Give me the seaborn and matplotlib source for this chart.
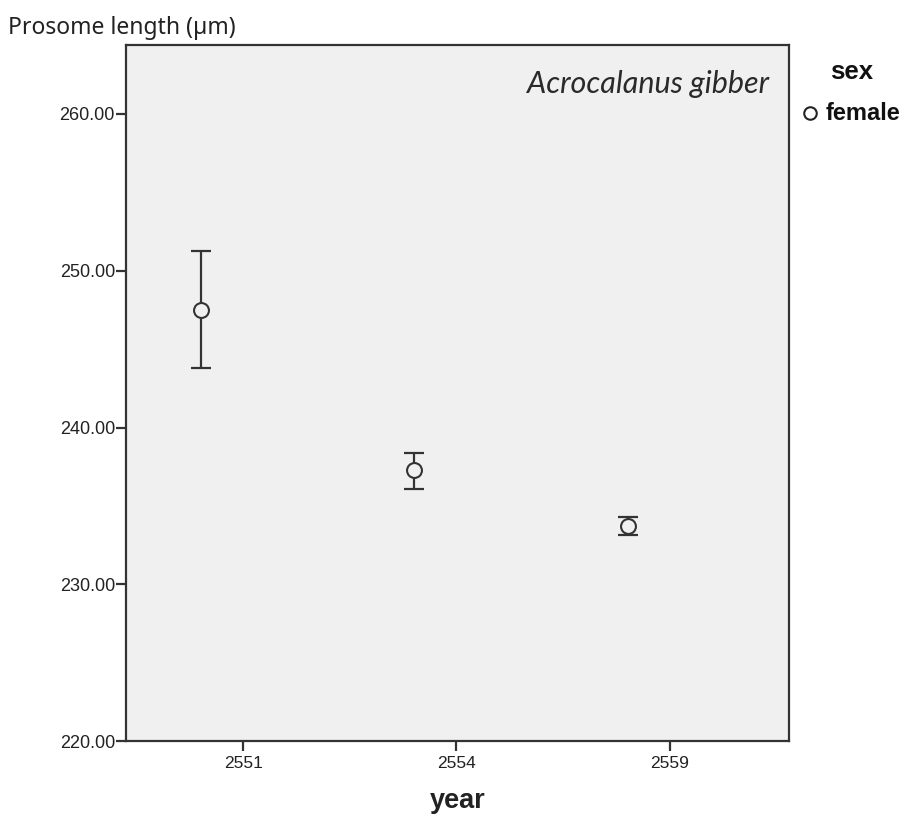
import numpy as np
import pandas as pd
import matplotlib
matplotlib.use("Agg")
import matplotlib.pyplot as plt
import seaborn as sns
from matplotlib.lines import Line2D

# ---- data ----
years = ["2551", "2554", "2559"]
mean_length = [247.50, 237.29, 233.72]
lower_ci = [243.81, 236.08, 233.16]
upper_ci = [251.26, 238.35, 234.27]
sex = ["female", "female", "female"]
y_ticks = [220, 230, 240, 250, 260]

sns.set_theme(style="white")
plt.rcParams['font.family'] = ['Liberation Sans', 'DejaVu Sans']

df = pd.DataFrame({"year": years, "mean": mean_length,
                   "lo": lower_ci, "hi": upper_ci, "sex": sex})
idx = np.arange(len(years))
df["xpos"] = idx - 0.197  # dodge offset as in SPSS

fig = plt.figure(figsize=(9.08, 8.23), dpi=100)
ax = fig.add_axes([0.1388, 0.0996, 0.869 - 0.1388, 0.9453 - 0.0996])
ax.set_facecolor("#f0f0f0")

dark = "#333333"
ax.errorbar(df["xpos"], df["mean"],
            yerr=[df["mean"] - df["lo"], df["hi"] - df["mean"]],
            fmt="none", ecolor=dark, elinewidth=1.6, capsize=7.5, capthick=1.6,
            zorder=2)
sns.scatterplot(data=df, x="xpos", y="mean", ax=ax, marker="o", s=115,
                facecolor="#f0f0f0", edgecolor=dark, linewidth=1.5,
                legend=False, zorder=3)

ax.set_xlim(-0.55, 2.56)
ax.set_ylim(220, 264.4)
ax.set_xticks(idx)
ax.set_xticklabels(years)
ax.set_yticks(y_ticks)
ax.set_yticklabels([f"{v:.2f}" for v in y_ticks])
ax.tick_params(axis="both", direction="out", length=7, width=1.6, color=dark,
               labelcolor="#222222")
ax.tick_params(axis="y", labelsize=13, pad=1)
ax.tick_params(axis="x", labelsize=12.5, pad=4)
ax.tick_params(left=True, bottom=True)
for sp in ax.spines.values():
    sp.set_color(dark)
    sp.set_linewidth(1.6)

ax.set_xlabel("year", fontsize=19.5, fontweight="bold", labelpad=12, color="#222222")
ax.set_ylabel("")

fig.text(8 / 908, 1 - 28 / 823, "Prosome length (µm)", fontsize=16.5,
         family=["Noto Sans", "DejaVu Sans"], va="center", ha="left", color="#222222")
ax.text(0.97, 0.944, "Acrocalanus gibber", transform=ax.transAxes, fontsize=22,
        style="italic", family=["Lato", "DejaVu Sans"], fontweight="normal",
        ha="right", va="center", color="#2a2a2a")

# legend
fig.text(852 / 908, 1 - 72 / 823, "sex", fontsize=18.5, fontweight="bold",
         ha="center", va="center", color="#111111")
fig.add_artist(Line2D([810 / 908], [1 - 113 / 823], marker="o", markersize=9,
                      markerfacecolor="white", markeredgecolor="#222222",
                      markeredgewidth=1.5, linestyle="none",
                      transform=fig.transFigure))
fig.text(826 / 908, 1 - 114 / 823, "female", fontsize=17, fontweight="bold",
         ha="left", va="center", color="#111111")

fig.savefig("out.png", dpi=100)
